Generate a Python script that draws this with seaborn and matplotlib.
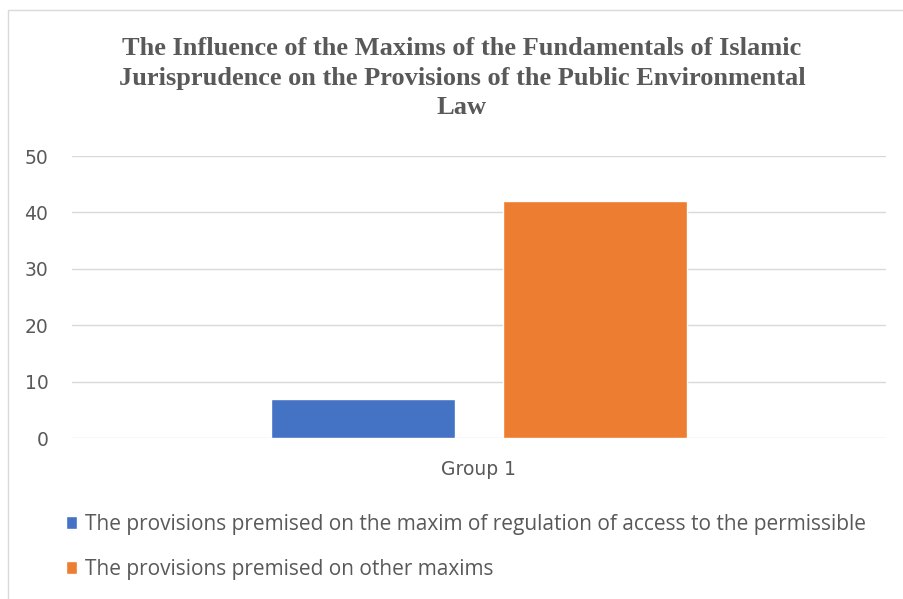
import matplotlib
matplotlib.use("Agg")
import matplotlib.pyplot as plt
import seaborn as sns
import pandas as pd
from matplotlib.patches import Rectangle

categories = ["Group 1"]
series = ["The provisions premised on the maxim of regulation of access to the permissible",
          "The provisions premised on other maxims"]
values = [7, 42]
colors = ["#4472C4", "#ED7D31"]
yticks = [0, 10, 20, 30, 40, 50]

df = pd.DataFrame({"group": categories * len(series), "series": series, "value": values})

sns.set_style("white")
plt.rcParams['font.family'] = ['DejaVu Sans']

fig = plt.figure(figsize=(9.04, 5.99), dpi=100)
ax = fig.add_axes([72/904, 1-438/599, (886-72)/904, (438-156)/599])

sns.barplot(data=df, x="group", y="value", hue="series", palette=colors,
            width=0.57, gap=0.21, ax=ax, legend=True, saturation=1)

ax.set_ylim(0, 50)
ax.set_xlim(-0.5, 0.5)
ax.set_yticks(yticks)
ax.set_yticklabels([str(t) for t in yticks])
ax.yaxis.grid(True, color="#D9D9D9", linewidth=1)
ax.set_axisbelow(True)
for s in ax.spines.values():
    s.set_visible(False)
ax.tick_params(axis='both', length=0, labelsize=13.5, colors="#595959")
ax.tick_params(axis='y', pad=17)
ax.tick_params(axis='x', pad=16)
ax.set_xlabel("")
ax.set_ylabel("")

handles, labels = ax.get_legend_handles_labels()
ax.get_legend().remove()
leg = fig.legend(handles, labels, loc="upper left", bbox_to_anchor=(49/904, 1-497/599),
                 frameon=False, handlelength=0.55, handleheight=0.55, handletextpad=0.4,
                 labelspacing=1.16, prop={'family': 'Open Sans', 'size': 15}, borderpad=0.3)
for t in leg.get_texts():
    t.set_color("#595959")

fig.text(462/904, 1-78/599,
         "The Influence of the Maxims of the Fundamentals of Islamic\nJurisprudence on the Provisions of the Public Environmental\nLaw",
         ha="center", va="center", fontsize=19, fontweight="bold", color="#595959",
         family="Liberation Serif", linespacing=1.35)

fig.patches.append(Rectangle((8/904, -0.01), 1.0, 1-10/599+0.01, transform=fig.transFigure,
                             fill=False, edgecolor="#D9D9D9", linewidth=1))

fig.savefig("out.png", dpi=100)
